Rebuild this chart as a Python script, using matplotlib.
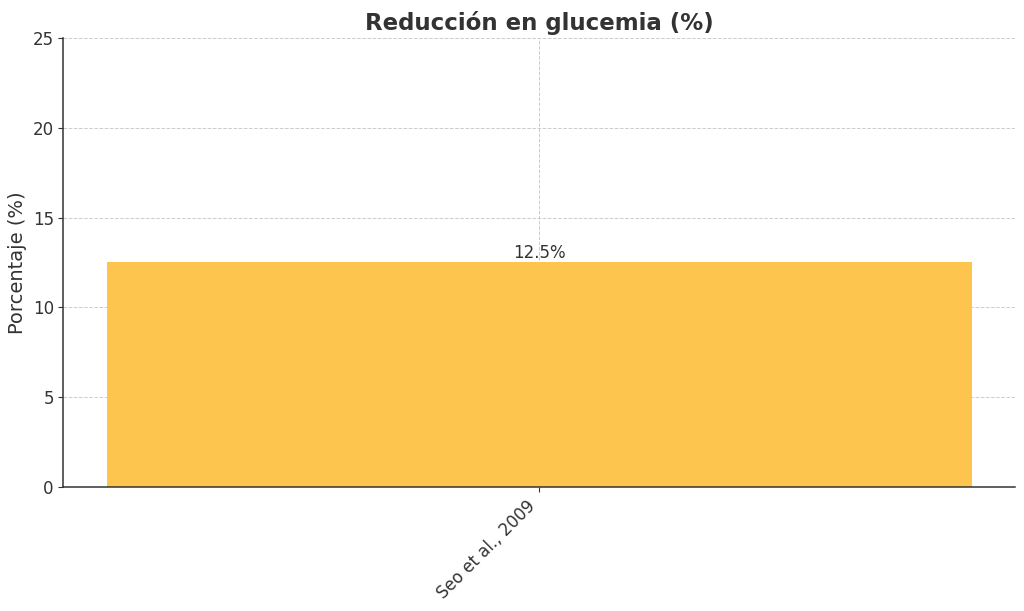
import matplotlib.pyplot as plt

# data
studies = ["Seo et al., 2009"]
reduction = [12.5]

plt.rcParams["font.family"] = ["DejaVu Sans"]
plt.rcParams["text.color"] = "#333333"
plt.rcParams["axes.labelcolor"] = "#333333"
plt.rcParams["xtick.color"] = "#333333"
plt.rcParams["ytick.color"] = "#333333"

fig, ax = plt.subplots(figsize=(10.24, 6.11), dpi=100)
bars = ax.bar(studies, reduction, color="#fdc54e", width=0.8, zorder=2)

for b, v in zip(bars, reduction):
    ax.text(b.get_x() + b.get_width() / 2, v, f"{v}%",
            ha="center", va="bottom", fontsize=12, color="#333333", zorder=3)

ax.set_ylim(0, 25)
ax.set_title("Reducción en glucemia (%)", fontsize=16.5, fontweight="bold",
             color="#333333", pad=6)
ax.set_ylabel("Porcentaje (%)", fontsize=14)
ax.tick_params(axis="both", labelsize=12)
plt.setp(ax.get_xticklabels(), rotation=45, ha="right")
ax.grid(True, linestyle="--", linewidth=0.7, color="#cccccc", zorder=0)
ax.spines["top"].set_visible(False)
ax.spines["right"].set_visible(False)
for s in ["left", "bottom"]:
    ax.spines[s].set_color("#333333")
    ax.spines[s].set_linewidth(1.1)

plt.subplots_adjust(left=0.062, right=0.991, top=0.938, bottom=0.203)
plt.savefig("out.png", dpi=100)
